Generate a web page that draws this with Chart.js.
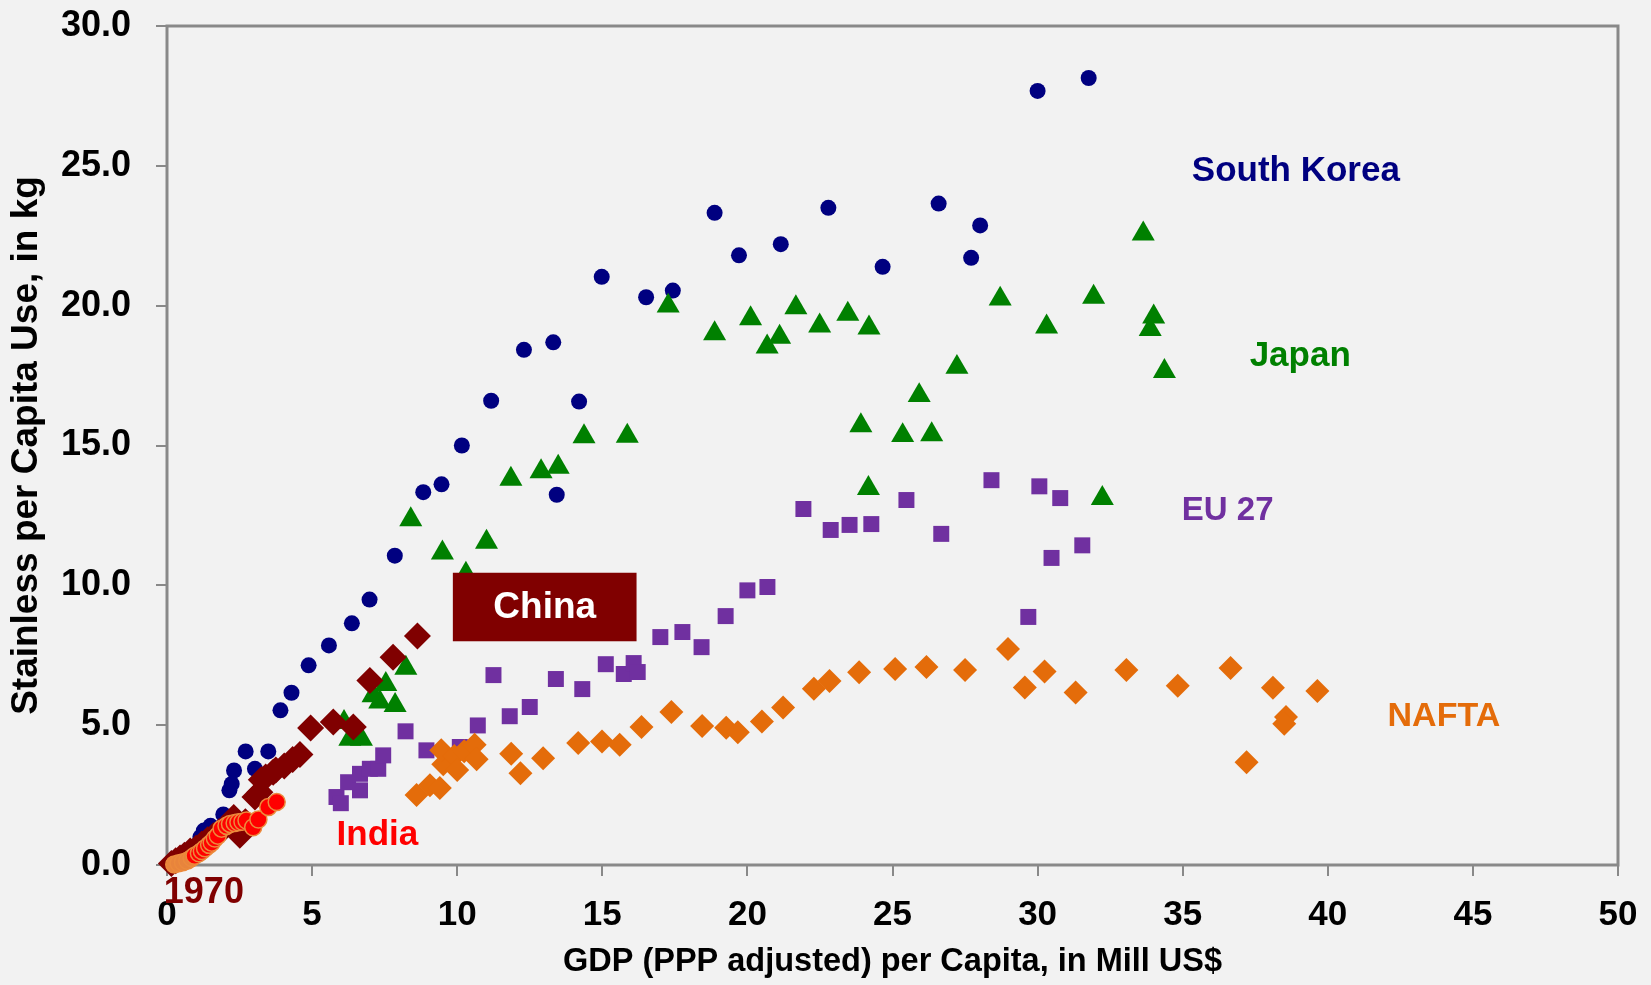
<!DOCTYPE html>
<html>
<head>
<meta charset="utf-8">
<title>Stainless per Capita Use vs GDP</title>
<script src="https://cdn.jsdelivr.net/npm/chart.js@4.4.0/dist/chart.umd.min.js"></script>
<style>
  html, body { margin: 0; padding: 0; background: #f2f2f2; }
  #chart { display: block; }
</style>
</head>
<body>
<canvas id="chart" width="1651" height="985"></canvas>
<script>
// values (GDP per capita, stainless use in kg)
const koreaX = [0.2, 0.35, 0.5, 0.7, 0.9, 1.15, 1.27, 1.5, 1.94, 2.15, 2.23, 2.31, 2.71, 3.03, 3.49, 3.91, 4.29, 4.88, 5.58, 6.37, 6.98, 7.85, 8.83, 9.46, 10.16, 11.17, 12.3, 13.31, 13.43, 14.2, 14.98, 16.51, 17.43, 18.87, 19.71, 21.15, 22.79, 24.66, 26.59, 27.71, 28.02, 30.0, 31.76];
const koreaY = [0.1, 0.2, 0.3, 0.45, 0.65, 1.0, 1.23, 1.4, 1.81, 2.67, 2.9, 3.38, 4.06, 3.44, 4.06, 5.53, 6.16, 7.14, 7.85, 8.64, 9.49, 11.06, 13.33, 13.61, 15.0, 16.6, 18.42, 18.69, 13.24, 16.57, 21.03, 20.3, 20.54, 23.32, 21.8, 22.2, 23.5, 21.39, 23.65, 21.71, 22.87, 27.68, 28.14];

const japanX = [6.1, 6.3, 6.7, 7.1, 7.33, 7.54, 7.86, 8.23, 8.4, 9.49, 10.3, 11.01, 11.85, 12.89, 13.48, 14.37, 15.86, 17.27, 18.87, 20.11, 20.68, 21.11, 21.67, 22.49, 23.46, 23.91, 24.17, 24.19, 25.35, 25.92, 26.35, 27.22, 28.71, 30.31, 31.93, 32.23, 33.64, 33.88, 34.0, 34.37];
const japanY = [5.1, 4.5, 4.5, 6.06, 5.83, 6.46, 5.71, 7.04, 12.35, 11.16, 10.4, 11.55, 13.8, 14.07, 14.23, 15.32, 15.34, 19.99, 19.0, 19.54, 18.53, 18.88, 19.93, 19.28, 19.7, 15.71, 13.47, 19.21, 15.36, 16.79, 15.39, 17.8, 20.24, 19.24, 20.31, 13.11, 22.57, 19.15, 19.6, 17.65];

const euX = [5.84, 5.99, 6.24, 6.65, 6.65, 6.99, 7.28, 7.45, 8.22, 8.94, 10.09, 10.71, 11.25, 11.81, 12.5, 13.4, 14.31, 15.12, 15.74, 16.08, 16.22, 17.0, 17.76, 18.42, 19.25, 20.0, 20.69, 21.93, 22.87, 23.52, 24.27, 25.48, 26.68, 28.41, 29.68, 30.06, 30.48, 30.78, 31.54];
const euY = [2.43, 2.21, 2.96, 2.67, 3.26, 3.44, 3.44, 3.92, 4.78, 4.1, 4.22, 4.99, 6.79, 5.32, 5.65, 6.65, 6.29, 7.18, 6.83, 7.22, 6.9, 8.15, 8.33, 7.79, 8.9, 9.82, 9.94, 12.73, 11.98, 12.16, 12.19, 13.05, 11.84, 13.76, 8.87, 13.54, 10.98, 13.12, 11.43];

const naftaX = [8.6, 9.06, 9.4, 9.52, 9.45, 9.9, 10.0, 10.24, 10.6, 10.67, 11.86, 12.18, 12.96, 14.17, 14.99, 15.6, 16.35, 17.38, 18.44, 19.27, 19.67, 20.5, 21.23, 22.29, 22.83, 23.85, 25.09, 26.17, 27.5, 28.98, 29.56, 30.24, 31.31, 33.06, 34.83, 36.65, 37.2, 38.11, 38.56, 38.5, 39.64];
const naftaY = [2.5, 2.85, 2.75, 3.6, 4.1, 3.9, 3.4, 4.07, 4.3, 3.78, 3.98, 3.28, 3.82, 4.36, 4.42, 4.3, 4.93, 5.47, 4.97, 4.91, 4.75, 5.13, 5.63, 6.3, 6.58, 6.89, 7.01, 7.08, 6.97, 7.72, 6.35, 6.92, 6.17, 6.97, 6.41, 7.04, 3.67, 6.34, 5.29, 5.05, 6.22];

const chinaX = [0.15, 0.3, 0.45, 0.6, 0.8, 1.0, 1.2, 1.4, 1.6, 1.8, 2.0, 2.3, 2.51, 2.7, 3.03, 3.2, 3.25, 3.4, 3.66, 3.75, 4.04, 4.33, 4.58, 4.95, 5.73, 6.42, 6.99, 7.79, 8.63];
const chinaY = [0.05, 0.15, 0.25, 0.35, 0.5, 0.6, 0.75, 0.9, 1.05, 1.2, 1.35, 1.7, 1.06, 1.55, 2.43, 2.6, 3.05, 3.15, 3.32, 3.4, 3.54, 3.77, 3.95, 4.9, 5.11, 4.93, 6.6, 7.43, 8.19];

const indiaX = [0.25, 0.4, 0.55, 0.7, 0.85, 0.95, 1.1, 1.2, 1.31, 1.45, 1.54, 1.65, 1.75, 1.88, 2.05, 2.17, 2.33, 2.46, 2.6, 2.74, 2.97, 3.15, 3.49, 3.78];
const indiaY = [0.02, 0.06, 0.1, 0.15, 0.25, 0.33, 0.42, 0.5, 0.6, 0.72, 0.8, 0.95, 1.05, 1.3, 1.4, 1.47, 1.5, 1.53, 1.55, 1.59, 1.35, 1.63, 2.07, 2.25];

const xTicks = [0, 5, 10, 15, 20, 25, 30, 35, 40, 45, 50];
const yTicks = [0, 5, 10, 15, 20, 25, 30];

const FONT = "'Liberation Sans', Arial, sans-serif";

function toPoints(xs, ys) {
  return xs.map((x, i) => ({ x: x, y: ys[i] }));
}

// text labels placed in data units
const notes = [
  { text: 'South Korea', x: 38.9, y: 24.8, color: '#000080', size: 35 },
  { text: 'Japan', x: 39.05, y: 18.2, color: '#008000', size: 35 },
  { text: 'EU 27', x: 36.55, y: 12.65, color: '#7030a0', size: 33 },
  { text: 'NAFTA', x: 44.0, y: 5.3, color: '#e46c0a', size: 34 },
  { text: 'India', x: 7.25, y: 1.05, color: '#ff0000', size: 35 },
  { text: '1970', x: 1.27, y: -1.0, color: '#800000', size: 36 }
];
const chinaBox = { x0: 9.85, x1: 16.18, y0: 8.0, y1: 10.45, text: 'China' };

const decorations = {
  id: 'decorations',
  beforeDatasetsDraw(chart) {
    const { ctx, chartArea: a } = chart;
    ctx.save();
    ctx.strokeStyle = '#898989';
    ctx.lineWidth = 3;
    ctx.strokeRect(a.left, a.top, a.right - a.left, a.bottom - a.top);
    ctx.restore();
  },
  afterDatasetsDraw(chart) {
    const { ctx } = chart;
    const xs = chart.scales.x, ys = chart.scales.y;
    ctx.save();
    // China box
    const bx0 = xs.getPixelForValue(chinaBox.x0), bx1 = xs.getPixelForValue(chinaBox.x1);
    const by0 = ys.getPixelForValue(chinaBox.y1), by1 = ys.getPixelForValue(chinaBox.y0);
    ctx.fillStyle = '#800000';
    ctx.fillRect(bx0, by0, bx1 - bx0, by1 - by0);
    ctx.fillStyle = '#ffffff';
    ctx.font = 'bold 37px ' + FONT;
    ctx.textAlign = 'center';
    ctx.textBaseline = 'middle';
    ctx.fillText(chinaBox.text, (bx0 + bx1) / 2, (by0 + by1) / 2 + 1);

    notes.forEach(n => {
      ctx.fillStyle = n.color;
      ctx.font = 'bold ' + n.size + 'px ' + FONT;
      ctx.fillText(n.text, xs.getPixelForValue(n.x), ys.getPixelForValue(n.y));
    });
    ctx.restore();
  }
};

const indiaFill = indiaX.map((x, i) => i < 5 ? '#e8843c' : '#ff0000');

new Chart(document.getElementById('chart'), {
  type: 'scatter',
  data: {
    datasets: [
      {
        label: 'India',
        data: toPoints(indiaX, indiaY),
        pointStyle: 'circle',
        pointRadius: 8.5,
        pointBackgroundColor: indiaFill,
        pointBorderColor: '#ec8a3c',
        pointBorderWidth: 1.5,
        order: 1,
        clip: false
      },
      {
        label: 'China',
        data: toPoints(chinaX, chinaY),
        pointStyle: 'rectRot',
        pointRadius: 13.5,
        pointBackgroundColor: '#800000',
        pointBorderWidth: 0,
        order: 2,
        clip: false
      },
      {
        label: 'NAFTA',
        data: toPoints(naftaX, naftaY),
        pointStyle: 'rectRot',
        pointRadius: 12,
        pointBackgroundColor: '#e46c0a',
        pointBorderWidth: 0,
        order: 3,
        clip: false
      },
      {
        label: 'EU 27',
        data: toPoints(euX, euY),
        pointStyle: 'rect',
        pointRadius: 11.3,
        pointBackgroundColor: '#7030a0',
        pointBorderWidth: 0,
        order: 4,
        clip: false
      },
      {
        label: 'Japan',
        data: toPoints(japanX, japanY),
        pointStyle: 'triangle',
        pointRadius: 13.3,
        pointBackgroundColor: '#008000',
        pointBorderWidth: 0,
        order: 5,
        clip: false
      },
      {
        label: 'South Korea',
        data: toPoints(koreaX, koreaY),
        pointStyle: 'circle',
        pointRadius: 8,
        pointBackgroundColor: '#000080',
        pointBorderWidth: 0,
        order: 6,
        clip: false
      }
    ]
  },
  options: {
    responsive: false,
    animation: false,
    layout: {
      padding: { top: 26, right: 33, left: 0, bottom: 0 }
    },
    plugins: {
      legend: { display: false },
      tooltip: { enabled: false }
    },
    scales: {
      x: {
        type: 'linear',
        min: 0,
        max: 50,
        afterFit: s => {
          s.height = 120;
          s.paddingLeft = 0;
          s.paddingRight = 0;
        },
        afterBuildTicks: s => { s.ticks = xTicks.map(v => ({ value: v })); },
        border: { display: false },
        grid: {
          drawOnChartArea: false,
          drawTicks: true,
          tickLength: 11,
          color: '#898989',
          lineWidth: 2
        },
        ticks: {
          color: '#000000',
          padding: 18,
          font: { family: FONT, size: 35, weight: 'bold' }
        },
        title: {
          display: true,
          text: 'GDP (PPP adjusted) per Capita, in Mill US$',
          color: '#000000',
          padding: { top: 0, bottom: 3 },
          font: { family: FONT, size: 32.5, weight: 'bold' }
        }
      },
      y: {
        type: 'linear',
        min: 0,
        max: 30,
        afterFit: s => {
          s.width = 167;
          s.paddingTop = 0;
          s.paddingBottom = 0;
        },
        afterBuildTicks: s => { s.ticks = yTicks.map(v => ({ value: v })); },
        border: { display: false },
        grid: {
          drawOnChartArea: false,
          drawTicks: true,
          tickLength: 11,
          color: '#898989',
          lineWidth: 2
        },
        ticks: {
          color: '#000000',
          padding: 25,
          font: { family: FONT, size: 36, weight: 'bold' },
          callback: v => v.toFixed(1)
        },
        title: {
          display: true,
          text: 'Stainless per Capita Use, in kg',
          color: '#000000',
          padding: { top: 5, bottom: 0 },
          font: { family: FONT, size: 37, weight: 'bold' }
        }
      }
    }
  },
  plugins: [decorations]
});
</script>
</body>
</html>
